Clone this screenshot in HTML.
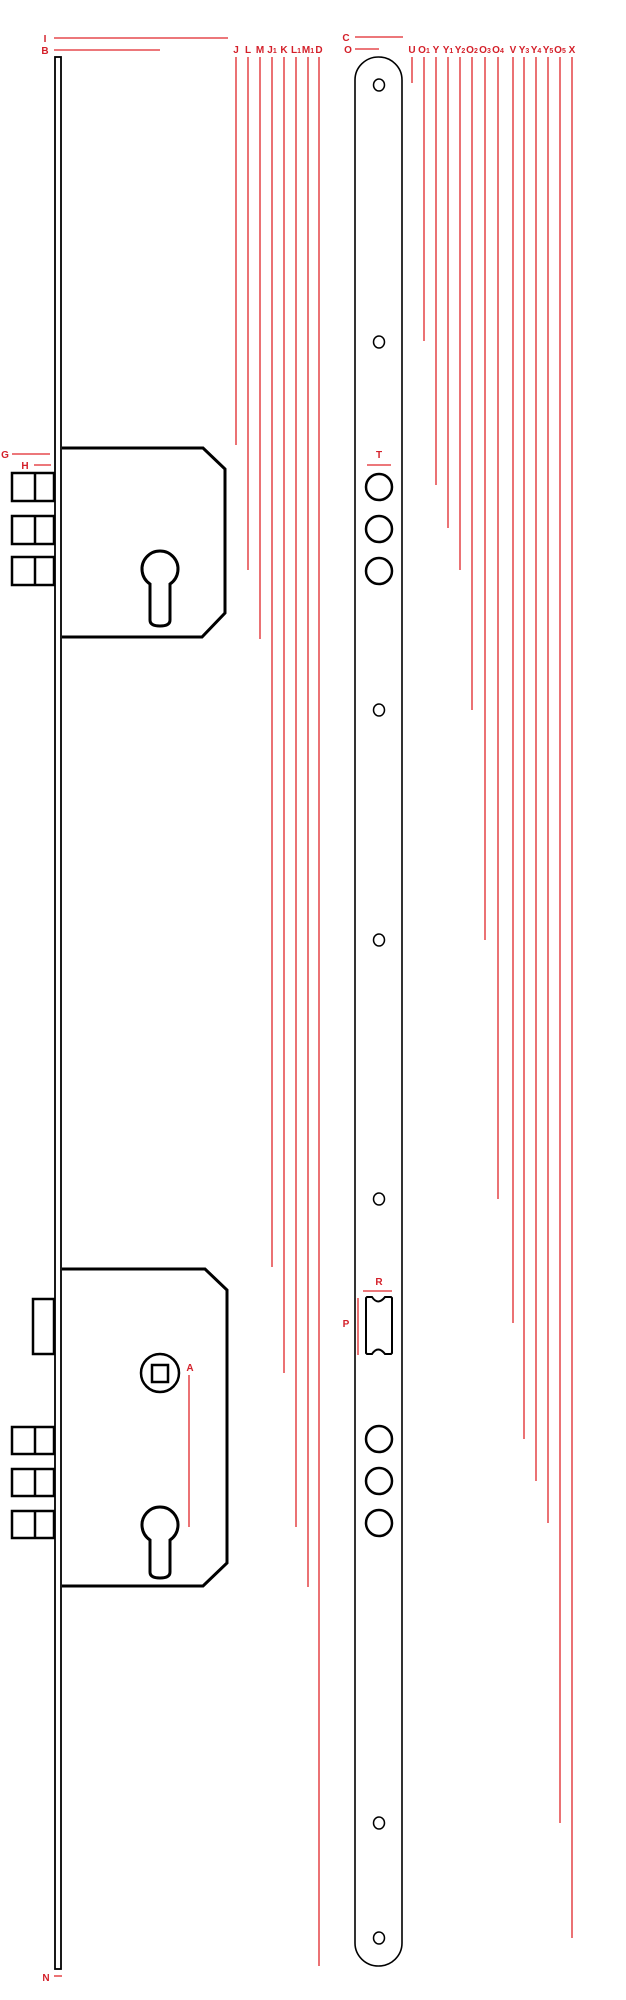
<!DOCTYPE html>
<html><head><meta charset="utf-8"><style>
html,body{margin:0;padding:0;background:#fff;}
svg{display:block;}
text{font-family:"Liberation Sans",sans-serif;font-weight:bold;fill:#d4202a;font-size:10px;text-anchor:middle;}
.r{stroke:#e0262a;stroke-width:1.3;fill:none;}
.k{stroke:#000;fill:none;}
</style></head><body>
<svg width="626" height="2000" viewBox="0 0 626 2000" xmlns="http://www.w3.org/2000/svg">
<!-- top-left labels -->
<text x="45" y="42">I</text><line class="r" x1="54" y1="38" x2="228" y2="38"/>
<text x="45" y="54">B</text><line class="r" x1="54" y1="50" x2="160" y2="50"/>
<text x="346" y="41">C</text><line class="r" x1="355" y1="37" x2="403" y2="37"/>
<text x="348" y="53">O</text><line class="r" x1="355" y1="49" x2="379" y2="49"/>

<!-- column labels -->
<g>
<text x="236" y="53">J</text>
<text x="248" y="53">L</text>
<text x="260" y="53">M</text>
<text x="272" y="53">J<tspan font-size="7">1</tspan></text>
<text x="284" y="53">K</text>
<text x="296" y="53">L<tspan font-size="7">1</tspan></text>
<text x="308" y="53">M<tspan font-size="7">1</tspan></text>
<text x="319" y="53">D</text>
<text x="412" y="53">U</text>
<text x="424" y="53">O<tspan font-size="7">1</tspan></text>
<text x="436" y="53">Y</text>
<text x="448" y="53">Y<tspan font-size="7">1</tspan></text>
<text x="460" y="53">Y<tspan font-size="7">2</tspan></text>
<text x="472" y="53">O<tspan font-size="7">2</tspan></text>
<text x="485" y="53">O<tspan font-size="7">3</tspan></text>
<text x="498" y="53">O<tspan font-size="7">4</tspan></text>
<text x="513" y="53">V</text>
<text x="524" y="53">Y<tspan font-size="7">3</tspan></text>
<text x="536" y="53">Y<tspan font-size="7">4</tspan></text>
<text x="548" y="53">Y<tspan font-size="7">5</tspan></text>
<text x="560" y="53">O<tspan font-size="7">5</tspan></text>
<text x="572" y="53">X</text>
</g>

<!-- red vertical lines -->
<g class="r">
<line x1="236" y1="57" x2="236" y2="445"/>
<line x1="248" y1="57" x2="248" y2="570"/>
<line x1="260" y1="57" x2="260" y2="639"/>
<line x1="272" y1="57" x2="272" y2="1267"/>
<line x1="284" y1="57" x2="284" y2="1373"/>
<line x1="296" y1="57" x2="296" y2="1527"/>
<line x1="308" y1="57" x2="308" y2="1587"/>
<line x1="319" y1="57" x2="319" y2="1966"/>
<line x1="412" y1="57" x2="412" y2="83"/>
<line x1="424" y1="57" x2="424" y2="341"/>
<line x1="436" y1="57" x2="436" y2="485"/>
<line x1="448" y1="57" x2="448" y2="528"/>
<line x1="460" y1="57" x2="460" y2="570"/>
<line x1="472" y1="57" x2="472" y2="710"/>
<line x1="485" y1="57" x2="485" y2="940"/>
<line x1="498" y1="57" x2="498" y2="1199"/>
<line x1="513" y1="57" x2="513" y2="1323"/>
<line x1="524" y1="57" x2="524" y2="1439"/>
<line x1="536" y1="57" x2="536" y2="1481"/>
<line x1="548" y1="57" x2="548" y2="1523"/>
<line x1="560" y1="57" x2="560" y2="1823"/>
<line x1="572" y1="57" x2="572" y2="1938"/>
</g>

<!-- left bar -->
<rect class="k" x="55" y="57" width="6" height="1912" stroke-width="1.8"/>

<!-- G / H -->
<text x="5" y="458">G</text><line class="r" x1="12" y1="454" x2="50" y2="454"/>
<text x="25" y="469">H</text><line class="r" x1="34" y1="465" x2="51" y2="465"/>

<!-- upper lock body -->
<path class="k" stroke-width="3" d="M62 448 L203 448 L225 469 L225 613 L202 637 L62 637"/>
<g class="k" stroke-width="2.5">
<rect x="12" y="473" width="42" height="28"/><line x1="35" y1="473" x2="35" y2="501"/>
<rect x="12" y="516" width="42" height="28"/><line x1="35" y1="516" x2="35" y2="544"/>
<rect x="12" y="557" width="42" height="28"/><line x1="35" y1="557" x2="35" y2="585"/>
</g>
<path class="k" stroke-width="3" d="M150 584 A18 18 0 1 1 170 584 L170 620 Q170 626 160 626 Q150 626 150 620 Z"/>

<!-- lower lock body -->
<path class="k" stroke-width="3" d="M62 1269 L205 1269 L227 1290 L227 1563 L203 1586 L62 1586"/>
<rect class="k" stroke-width="2.5" x="33" y="1299" width="21" height="55"/>
<circle class="k" stroke-width="2.5" cx="160" cy="1373" r="19"/>
<rect class="k" stroke-width="2.5" x="152" y="1365" width="16" height="17"/>
<text x="190" y="1371">A</text><line class="r" x1="189" y1="1375" x2="189" y2="1527"/>
<g class="k" stroke-width="2.5">
<rect x="12" y="1427" width="42" height="27"/><line x1="35" y1="1427" x2="35" y2="1454"/>
<rect x="12" y="1469" width="42" height="27"/><line x1="35" y1="1469" x2="35" y2="1496"/>
<rect x="12" y="1511" width="42" height="27"/><line x1="35" y1="1511" x2="35" y2="1538"/>
</g>
<path class="k" stroke-width="3" d="M150 1540 A18 18 0 1 1 170 1540 L170 1572 Q170 1578 160 1578 Q150 1578 150 1572 Z"/>

<!-- N -->
<text x="46" y="1981">N</text><line class="r" x1="54" y1="1976" x2="62" y2="1976"/>

<!-- right plate -->
<rect class="k" stroke-width="1.6" x="355" y="57" width="47" height="1909" rx="23.5" ry="23"/>
<g class="k" stroke-width="1.5">
<ellipse cx="379" cy="85" rx="5.5" ry="6"/>
<ellipse cx="379" cy="342" rx="5.5" ry="6"/>
<ellipse cx="379" cy="710" rx="5.5" ry="6"/>
<ellipse cx="379" cy="940" rx="5.5" ry="6"/>
<ellipse cx="379" cy="1199" rx="5.5" ry="6"/>
<ellipse cx="379" cy="1823" rx="5.5" ry="6"/>
<ellipse cx="379" cy="1938" rx="5.5" ry="6"/>
</g>
<g class="k" stroke-width="2.5">
<circle cx="379" cy="487" r="13"/>
<circle cx="379" cy="529" r="13"/>
<circle cx="379" cy="571" r="13"/>
<circle cx="379" cy="1439" r="13"/>
<circle cx="379" cy="1481" r="13"/>
<circle cx="379" cy="1523" r="13"/>
</g>
<text x="379" y="458">T</text><line class="r" x1="367" y1="465" x2="391" y2="465"/>

<!-- slot -->
<text x="379" y="1285">R</text><line class="r" x1="363" y1="1291" x2="392" y2="1291"/>
<text x="346" y="1327">P</text><line class="r" x1="358" y1="1298" x2="358" y2="1355"/>
<path class="k" stroke-width="2" d="M367 1297 L372 1297 Q378 1306 385 1297 L391 1297 L392 1298 L392 1353 L391 1354 L385 1354 Q378 1345 372 1354 L367 1354 L366 1353 L366 1298 Z"/>
</svg>
</body></html>
